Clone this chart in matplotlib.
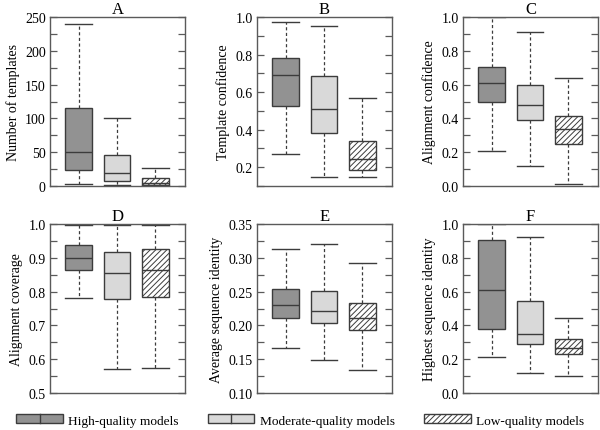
import matplotlib
matplotlib.use('Agg')
import matplotlib.pyplot as plt
from matplotlib.patches import Rectangle
from matplotlib.lines import Line2D
from matplotlib.legend_handler import HandlerPatch
from matplotlib.ticker import MultipleLocator

plt.rcParams['font.family'] = ['Liberation Serif', 'DejaVu Serif']
plt.rcParams['hatch.linewidth'] = 0.7

# ------------------------------------------------------------
# Box statistics: (whislo, q1, med, q3, whishi)
# order within each panel: high, moderate, low quality models
# ------------------------------------------------------------
groups = ['High-quality models', 'Moderate-quality models', 'Low-quality models']
panel_letters = ['A', 'B', 'C', 'D', 'E', 'F']
ylabels = ['Number of templates', 'Template confidence', 'Alignment confidence',
           'Alignment coverage', 'Average sequence identity', 'Highest sequence identity']

stats_A = [(2.5, 23, 50, 116, 240), (1, 8, 19, 46, 100), (1, 2, 5, 12, 27)]
stats_B = [(0.27, 0.527, 0.689, 0.779, 0.973), (0.15, 0.382, 0.509, 0.686, 0.952),
           (0.15, 0.184, 0.245, 0.339, 0.571)]
stats_C = [(0.206, 0.499, 0.612, 0.705, 0.998), (0.119, 0.392, 0.479, 0.600, 0.909),
           (0.01, 0.251, 0.335, 0.414, 0.642)]
stats_D = [(0.780, 0.863, 0.898, 0.938, 0.998), (0.570, 0.777, 0.856, 0.916, 0.998),
           (0.574, 0.783, 0.865, 0.926, 0.998)]
stats_E = [(0.167, 0.211, 0.230, 0.2545, 0.313), (0.149, 0.204, 0.222, 0.2515, 0.321),
           (0.1346, 0.1936, 0.211, 0.2327, 0.2926)]
stats_F = [(0.212, 0.378, 0.612, 0.905, 0.998), (0.121, 0.289, 0.349, 0.543, 0.923),
           (0.101, 0.230, 0.269, 0.317, 0.446)]
all_stats = [stats_A, stats_B, stats_C, stats_D, stats_E, stats_F]

ylims = [(0, 250), (0.1, 1.0), (0, 1.0), (0.5, 1.0), (0.10, 0.35), (0, 1.0)]
major_steps = [50, 0.2, 0.2, 0.1, 0.05, 0.2]
minor_steps = [25, 0.1, 0.1, 0.05, 0.025, 0.1]
tick_fmt = ['{:.0f}', '{:.1f}', '{:.1f}', '{:.1f}', '{:.2f}', '{:.1f}']

face_colors = ['#929292', '#d9d9d9', 'white']
hatches = [None, None, '//////']
edge = '#3c3c3c'
spine_col = '#5a5a5a'

# axes rectangles in pixels of the 600x431 figure
W, H = 600, 431
col_left = [50, 257, 463]
col_width = 135
row_top = [18, 225]
row_h = 169

fig = plt.figure(figsize=(6.0, 4.31), dpi=100)

for i in range(6):
    r, c = divmod(i, 3)
    ax = fig.add_axes([col_left[c] / W, 1 - (row_top[r] + row_h) / H,
                       col_width / W, row_h / H])
    bx = []
    for s in all_stats[i]:
        lo, q1, med, q3, hi = s
        bx.append(dict(whislo=lo, q1=q1, med=med, q3=q3, whishi=hi, fliers=[]))
    res = ax.bxp(bx, positions=[1, 2, 3], widths=0.7, patch_artist=True,
                 showfliers=False,
                 boxprops=dict(edgecolor=edge, linewidth=1.0),
                 whiskerprops=dict(color=edge, linestyle=(0, (2.5, 2)), linewidth=0.9),
                 capprops=dict(color=edge, linewidth=1.0),
                 medianprops=dict(color=edge, linewidth=1.0),
                 capwidths=0.7)
    for patch, fc, h in zip(res['boxes'], face_colors, hatches):
        patch.set_facecolor(fc)
        if h:
            patch.set_hatch(h)

    ax.set_xlim(0.25, 3.78)
    ax.set_ylim(*ylims[i])
    ax.set_xticks([])
    ax.yaxis.set_major_locator(MultipleLocator(major_steps[i]))
    ax.yaxis.set_minor_locator(MultipleLocator(minor_steps[i]))
    fmt = tick_fmt[i]
    ax.yaxis.set_major_formatter(plt.FuncFormatter(lambda v, p, f=fmt: f.format(v)))
    ax.tick_params(axis='y', which='both', direction='in', left=True, right=True,
                   length=5, width=0.9, color=spine_col, labelsize=10, pad=3)
    for sp in ax.spines.values():
        sp.set_color(spine_col)
        sp.set_linewidth(1.0)
    ax.set_ylabel(ylabels[i], fontsize=10, labelpad=4)
    ax.set_title(panel_letters[i], fontsize=12, pad=2)


class BoxHandler(HandlerPatch):
    def create_artists(self, legend, orig_handle, xdescent, ydescent,
                       width, height, fontsize, trans):
        rect = Rectangle((-xdescent, -ydescent), width, height,
                         facecolor=orig_handle.get_facecolor(),
                         edgecolor=orig_handle.get_edgecolor(),
                         hatch=orig_handle.get_hatch(), linewidth=1.0,
                         transform=trans)
        arts = [rect]
        if orig_handle.get_hatch() is None:
            x = -xdescent + width / 2
            arts.append(Line2D([x, x], [-ydescent, -ydescent + height],
                               color=orig_handle.get_edgecolor(), linewidth=1.0,
                               transform=trans))
        return arts


handles = [Rectangle((0, 0), 1, 1, facecolor=fc, edgecolor=edge, hatch=h)
           for fc, h in zip(face_colors, hatches)]
fig.legend(handles, groups, loc='center', bbox_to_anchor=(0.5, 0.022),
           ncol=3, frameon=False, fontsize=9.6, handlelength=3.5,
           handleheight=0.65, handletextpad=0.38, columnspacing=2.2,
           borderpad=0.2, handler_map={Rectangle: BoxHandler()})

fig.savefig('out.png', dpi=100, facecolor='white')
